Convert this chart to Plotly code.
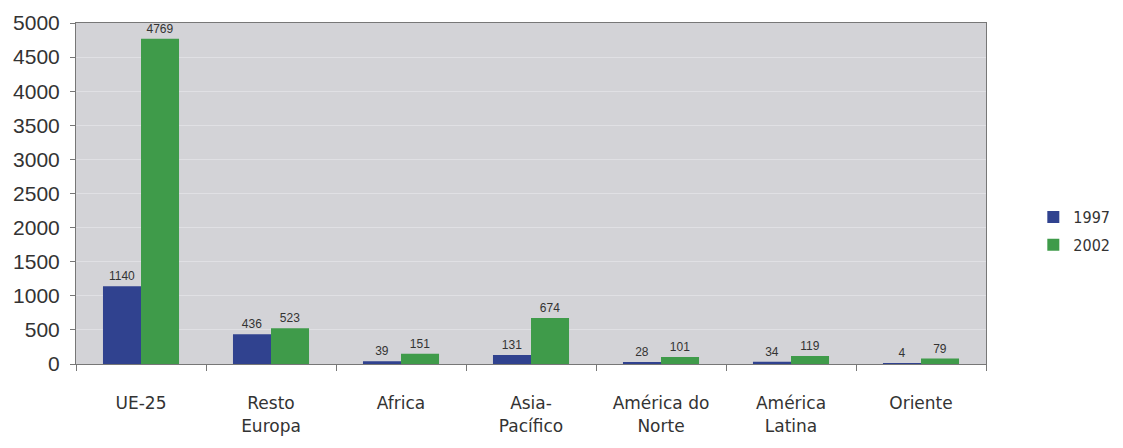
import plotly.graph_objects as go

# Regions and yearly values
regioes = ["UE-25", "Resto<br>Europa", "Africa", "Asia-<br>Pacífico",
           "América do<br>Norte", "América<br>Latina", "Oriente"]
valores_1997 = [1140, 436, 39, 131, 28, 34, 4]
valores_2002 = [4769, 523, 151, 674, 101, 119, 79]
y_ticks = [0, 500, 1000, 1500, 2000, 2500, 3000, 3500, 4000, 4500, 5000]

COR_1997 = "#30428f"
COR_2002 = "#3f9b4a"
LABEL_FONT = dict(family="Liberation Sans Narrow, Arial Narrow, Liberation Sans, Arial",
                  size=12, color="#333333")

fig = go.Figure()
fig.add_trace(go.Bar(
    name="1997", x=regioes, y=valores_1997, marker_color=COR_1997,
    marker_line_width=0, text=valores_1997, textposition="outside",
    textfont=LABEL_FONT, cliponaxis=False, legendgroup="a",
))
fig.add_trace(go.Bar(
    name="2002", x=regioes, y=valores_2002, marker_color=COR_2002,
    marker_line_width=0, text=valores_2002, textposition="outside",
    textfont=LABEL_FONT, cliponaxis=False, legendgroup="b",
))

fig.update_layout(
    width=1123, height=448,
    margin=dict(l=76, r=137, t=23, b=84, autoexpand=False),
    paper_bgcolor="white",
    plot_bgcolor="#d3d3d7",
    barmode="group",
    bargap=0.415,
    bargroupgap=0,
    showlegend=True,
    legend=dict(
        x=1.052, y=0.39, xanchor="left", yanchor="middle",
        font=dict(family="DejaVu Sans Condensed, DejaVu Sans, Verdana",
                  size=16, color="#333333"),
        bgcolor="rgba(0,0,0,0)",
        traceorder="grouped",
        tracegroupgap=4,
        itemwidth=30,
    ),
)

fig.update_xaxes(
    tickfont=dict(family="DejaVu Sans, Verdana", size=17, color="#333333"),
    showline=True, linecolor="#777777", linewidth=1, mirror=True,
    ticks="outside", tickson="boundaries", ticklen=6, tickcolor="#777777",
    ticklabelstandoff=24,
    showgrid=False,
)
fig.update_yaxes(
    range=[0, 5000],
    tickvals=y_ticks,
    tickfont=dict(family="Liberation Sans, Arial", size=21, color="#333333"),
    showline=True, linecolor="#777777", linewidth=1, mirror=True,
    ticks="outside", ticklen=5, tickcolor="#777777",
    ticklabelstandoff=6,
    showgrid=True, gridcolor="#e0e0e4", gridwidth=1,
    zeroline=False,
)

fig.write_html("out.html")
